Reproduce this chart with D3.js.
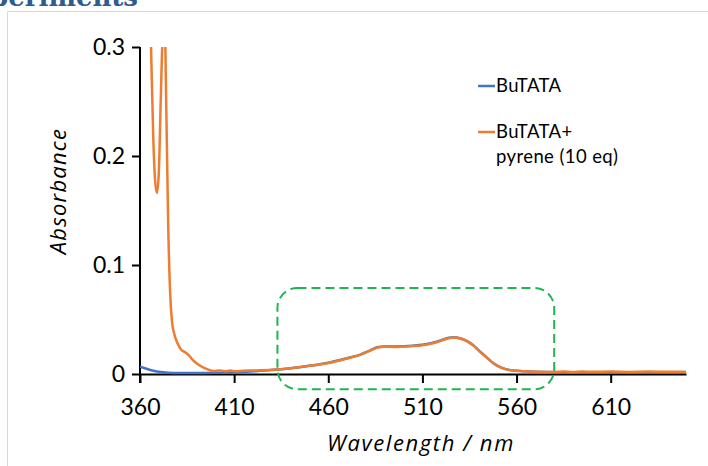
<!DOCTYPE html>
<html>
<head>
<meta charset="utf-8">
<script src="https://cdn.jsdelivr.net/npm/d3@7"></script>
<style>
  html, body { margin: 0; padding: 0; background: #fff; overflow: hidden; }
  svg { display: block; }
</style>
</head>
<body>
<div class="chart-container"></div>
<script>
// ---------- Data

var xTicks = [360, 410, 460, 510, 560, 610];
var yTicks = [0, 0.1, 0.2, 0.3];
var yTickLabels = ["0", "0.1", "0.2", "0.3"];

var seriesNames = ["BuTATA", "BuTATA+\npyrene (10 eq)"];

var butataWl = [360, 363, 366, 370, 375, 380, 390, 400, 410, 420, 430, 440, 450, 460, 470, 477, 482, 486, 490, 495, 500, 505, 510, 515, 520, 524, 527, 530, 534, 537, 541, 544, 548, 552, 556, 562, 570, 583, 600, 620, 650];
var butataAbs = [0.0067, 0.005, 0.0035, 0.002, 0.0012, 0.001, 0.001, 0.0012, 0.0016, 0.0025, 0.0036, 0.0052, 0.0075, 0.0103, 0.0145, 0.0178, 0.0215, 0.0245, 0.0252, 0.0253, 0.0255, 0.026, 0.0268, 0.0285, 0.031, 0.0333, 0.0338, 0.0328, 0.03, 0.0265, 0.02, 0.0155, 0.0095, 0.0058, 0.0038, 0.0028, 0.0021, 0.0016, 0.0015, 0.0014, 0.0014];

var mixWl = [365, 366, 367, 368, 369, 370, 371, 372, 373, 374, 375, 376, 377, 378, 380, 382, 384, 386, 388, 390, 393, 396, 399, 402, 405, 408, 411, 415, 420, 430, 440, 450, 460, 470, 477, 482, 486, 490, 495, 500, 505, 510, 515, 520, 524, 527, 530, 534, 537, 541, 544, 548, 552, 556, 562, 570, 580, 585, 590, 595, 600, 610, 620, 630, 640, 650];
var mixAbs = [0.36, 0.29, 0.22, 0.178, 0.166, 0.185, 0.25, 0.31, 0.33, 0.24, 0.135, 0.075, 0.048, 0.038, 0.028, 0.022, 0.02, 0.017, 0.013, 0.0098, 0.0065, 0.0043, 0.0028, 0.0033, 0.0026, 0.0031, 0.0025, 0.003, 0.0032, 0.0038, 0.0053, 0.0075, 0.0101, 0.0142, 0.0176, 0.0212, 0.0242, 0.025, 0.0248, 0.0252, 0.0256, 0.0264, 0.028, 0.0306, 0.0328, 0.0334, 0.0325, 0.0297, 0.0262, 0.0198, 0.0153, 0.0094, 0.0057, 0.0037, 0.0027, 0.0021, 0.0018, 0.0024, 0.0019, 0.0023, 0.002, 0.0022, 0.0019, 0.0022, 0.002, 0.0021];

// highlighted region (green dashed box), in data units
var boxWl = [433, 580];
var boxAbs = [0.079, -0.014];

// ---------- Layout

var width = 708, height = 466;
var plotLeft = 140, plotRight = 686, plotTop = 47, plotBottom = 374;
var blue = "#4472c4", orange = "#ed7d31", green = "#1fb552";
var font = "Lato, 'Open Sans', sans-serif";
var titleFont = "'Open Sans', Lato, sans-serif";

var x = d3.scaleLinear().domain([360, 650]).range([plotLeft, plotRight]);
var y = d3.scaleLinear().domain([0, 0.3]).range([plotBottom, plotTop]);

var svg = d3.select("div.chart-container")
  .append("svg")
  .attr("width", width)
  .attr("height", height);

// page chrome: cut-off heading and frame
svg.append("text")
  .attr("x", 138).attr("y", 6)
  .attr("text-anchor", "end")
  .attr("font-family", "'DejaVu Serif', serif")
  .attr("font-weight", "bold")
  .attr("font-size", 26)
  .attr("fill", "#2f5b8e")
  .text("Experiments");

svg.append("path")
  .attr("d", "M7.5,466 V11.5 H708")
  .attr("fill", "none")
  .attr("stroke", "#d9d9d9")
  .attr("stroke-width", 1);

svg.append("clipPath").attr("id", "plot-clip")
  .append("rect")
  .attr("x", plotLeft).attr("y", plotTop)
  .attr("width", plotRight - plotLeft)
  .attr("height", plotBottom - plotTop + 2);

// ---------- Axes

var yAxis = d3.axisLeft(y)
  .tickValues(yTicks)
  .tickFormat((d, i) => yTickLabels[i])
  .tickSizeInner(8).tickSizeOuter(0).tickPadding(7);

var xAxis = d3.axisBottom(x)
  .tickValues(xTicks)
  .tickFormat(d3.format("d"))
  .tickSizeInner(9).tickSizeOuter(0).tickPadding(16);

var gy = svg.append("g").attr("transform", `translate(${plotLeft},0)`).call(yAxis);
var gx = svg.append("g").attr("transform", `translate(0,${plotBottom})`).call(xAxis);

[gx, gy].forEach(g => {
  g.selectAll("path.domain").attr("stroke", "#000").attr("stroke-width", 2);
  g.selectAll(".tick line").attr("stroke", "#000").attr("stroke-width", 2);
  g.selectAll(".tick text")
    .attr("font-family", font)
    .attr("font-size", 23)
    .attr("fill", "#000");
});
// y axis line runs down to the x tick length
gy.select("path.domain").attr("d", `M0,${plotTop}V${plotBottom + 9}`);

// ---------- Lines

var line = d3.line()
  .x(d => x(d[0]))
  .y(d => y(d[1]))
  .curve(d3.curveMonotoneX);

var plot = svg.append("g").attr("clip-path", "url(#plot-clip)");

plot.append("path")
  .datum(d3.zip(butataWl, butataAbs))
  .attr("d", line)
  .attr("fill", "none")
  .attr("stroke", blue)
  .attr("stroke-width", 2.5);

plot.append("path")
  .datum(d3.zip(mixWl, mixAbs))
  .attr("d", line)
  .attr("fill", "none")
  .attr("stroke", orange)
  .attr("stroke-width", 2.5);

// ---------- Highlight box

svg.append("rect")
  .attr("x", x(boxWl[0]))
  .attr("y", y(boxAbs[0]))
  .attr("width", x(boxWl[1]) - x(boxWl[0]))
  .attr("height", y(boxAbs[1]) - y(boxAbs[0]))
  .attr("rx", 20).attr("ry", 20)
  .attr("fill", "none")
  .attr("stroke", green)
  .attr("stroke-width", 2)
  .attr("stroke-dasharray", "9,5");

// ---------- Axis titles

svg.append("text")
  .attr("x", 421).attr("y", 451)
  .attr("text-anchor", "middle")
  .attr("font-family", titleFont)
  .attr("font-style", "italic")
  .attr("font-size", 22)
  .attr("letter-spacing", 1.6)
  .text("Wavelength / nm");

svg.append("text")
  .attr("transform", "translate(66,191) rotate(-90)")
  .attr("text-anchor", "middle")
  .attr("font-family", titleFont)
  .attr("font-style", "italic")
  .attr("font-size", 22)
  .attr("letter-spacing", 1.2)
  .text("Absorbance");

// ---------- Legend

var legend = svg.append("g").attr("transform", "translate(478,0)");
var legendY = [86, 132];
var legendColors = [blue, orange];

seriesNames.forEach((name, i) => {
  legend.append("line")
    .attr("x1", 0).attr("x2", 17)
    .attr("y1", legendY[i]).attr("y2", legendY[i])
    .attr("stroke", legendColors[i])
    .attr("stroke-width", 2.5);
  var t = legend.append("text")
    .attr("x", 18).attr("y", legendY[i] + 6)
    .attr("font-family", font)
    .attr("font-size", 18.5)
    .attr("letter-spacing", 0.4);
  name.split("\n").forEach((part, j) => {
    t.append("tspan").attr("x", 18).attr("dy", j ? 25 : 0).text(part);
  });
});
</script>
</body>
</html>
